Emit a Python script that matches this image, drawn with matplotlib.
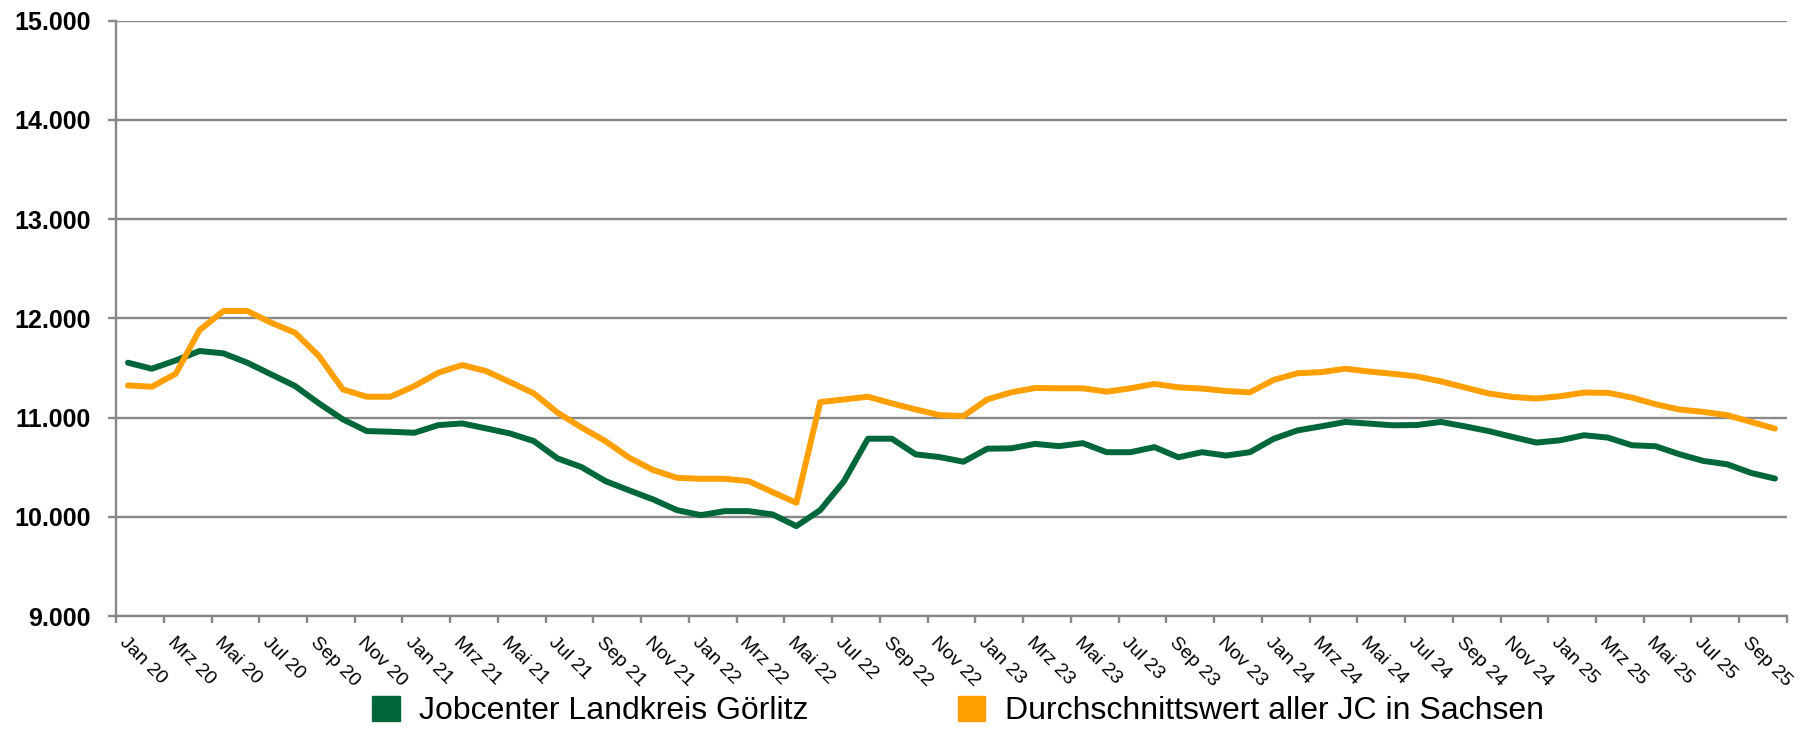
import matplotlib
matplotlib.use("Agg")
import matplotlib.pyplot as plt
from matplotlib.patches import Patch
from matplotlib.ticker import FuncFormatter
import numpy as np

plt.rcParams['font.family'] = ['Liberation Sans', 'DejaVu Sans']

monate = ['Jan', 'Feb', 'Mrz', 'Apr', 'Mai', 'Jun', 'Jul', 'Aug', 'Sep', 'Okt', 'Nov', 'Dez']
jahre = ['20', '21', '22', '23', '24', '25']
n_monate = 70  # Jan 20 .. Okt 25

goerlitz = [11553, 11492, 11576, 11671, 11647, 11553, 11435, 11318, 11143, 10982,
            10864, 10857, 10847, 10924, 10941, 10891, 10840, 10763, 10588, 10501,
            10360, 10266, 10175, 10067, 10017, 10057, 10057, 10024, 9906, 10067,
            10360, 10787, 10787, 10629, 10602, 10555, 10686, 10690, 10735, 10712,
            10742, 10651, 10651, 10702, 10600, 10651, 10617, 10651, 10786, 10871,
            10912, 10956, 10939, 10922, 10925, 10956, 10912, 10864, 10805, 10748,
            10771, 10822, 10798, 10721, 10711, 10630, 10563, 10529, 10442, 10385]

sachsen = [11324, 11311, 11442, 11882, 12074, 12074, 11956, 11855, 11620, 11284,
           11210, 11210, 11318, 11452, 11529, 11469, 11358, 11244, 11049, 10900,
           10763, 10595, 10471, 10393, 10383, 10383, 10360, 10249, 10141, 11156,
           11183, 11210, 11143, 11082, 11025, 11015, 11183, 11254, 11298, 11295,
           11295, 11261, 11295, 11339, 11305, 11292, 11268, 11254, 11380, 11447,
           11458, 11492, 11464, 11441, 11414, 11365, 11304, 11243, 11208, 11192,
           11215, 11252, 11249, 11202, 11134, 11081, 11057, 11024, 10956, 10889]

labels = [f'{monate[i % 12]} {jahre[i // 12]}' for i in range(n_monate)]

gruen = '#00673A'
orange = '#FFA000'
grau = '#878787'

fig = plt.figure(figsize=(18.16, 7.31), dpi=100)
ax = fig.add_axes([0.0639, 0.1573, 0.9201, 0.8144])

x = np.arange(n_monate)
ax.plot(x, goerlitz, color=gruen, lw=4.3, solid_joinstyle='round', solid_capstyle='round', zorder=3)
ax.plot(x, sachsen, color=orange, lw=4.3, solid_joinstyle='round', solid_capstyle='round', zorder=3)

ax.set_xlim(-0.5, n_monate - 0.5)
ax.set_ylim(9000, 15000)
ax.set_yticks(np.arange(9000, 15001, 1000))
ax.yaxis.set_major_formatter(FuncFormatter(lambda v, p: f'{int(v):,}'.replace(',', '.')))
ax.grid(axis='y', color=grau, lw=1.7, zorder=1)

for s in ['top', 'right']:
    ax.spines[s].set_visible(False)
for s in ['left', 'bottom']:
    ax.spines[s].set_color(grau)
    ax.spines[s].set_linewidth(1.7)

ax.tick_params(axis='y', length=6, width=1.7, color=grau, pad=12, labelsize=18)
for t in ax.get_yticklabels():
    t.set_fontweight('bold')

# Striche zwischen den Kategorien, Beschriftung jede zweite Kategorie
ax.set_xticks(np.arange(-0.5, n_monate, 2))
ax.set_xticklabels([])
ax.tick_params(axis='x', which='major', length=5, width=1.7, color=grau)
ax.set_xticks(x[::2], minor=True)
ax.set_xticklabels(labels[::2], minor=True, rotation=-45, ha='left', va='top',
                   rotation_mode='anchor', fontsize=14)
ax.tick_params(axis='x', which='minor', length=0, pad=13)

handles = [Patch(facecolor=gruen, edgecolor=gruen), Patch(facecolor=orange, edgecolor=orange)]
fig.legend(handles, ['Jobcenter Landkreis Görlitz', 'Durchschnittswert aller JC in Sachsen'],
           loc='center', bbox_to_anchor=(958 / 1816, 1 - 711 / 731), ncol=2, frameon=False,
           fontsize=23, handlelength=0.85, handleheight=0.85, handletextpad=0.6,
           columnspacing=4.7, borderpad=0)

fig.savefig('out.png', dpi=100)
